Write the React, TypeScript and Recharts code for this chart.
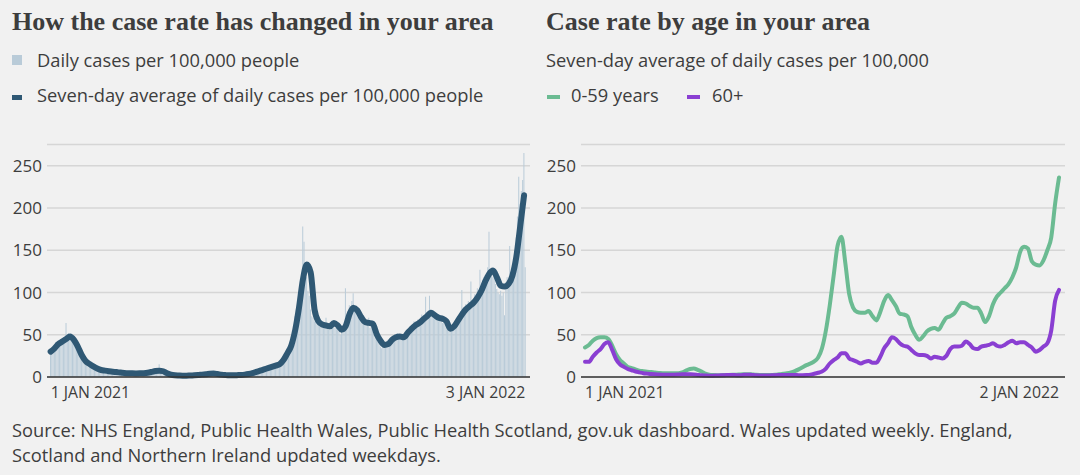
import React from 'react';
import { ComposedChart, LineChart, Bar, Line, XAxis, YAxis, CartesianGrid } from 'recharts';

// ---------- DATA ----------
// Left chart: daily cases per 100,000 (1 Jan 2021 .. 3 Jan 2022, one value per day)
const dailyCases = [
  32, 29, 35, 38, 41, 36, 40,
  43, 45, 40, 44, 47, 64, 50,
  52, 49, 47, 43, 45, 40, 38,
  33, 30, 26, 22, 20, 18, 17,
  16, 14, 15, 13, 12, 11, 12,
  10, 9, 11, 8, 9, 8, 7,
  8, 7, 6, 8, 7, 6, 6,
  6, 7, 5, 6, 5, 6, 5,
  5, 4, 5, 4, 5, 4, 4,
  4, 5, 4, 4, 5, 4, 4,
  5, 4, 5, 5, 4, 6, 5,
  6, 7, 6, 8, 7, 8, 9,
  15, 8, 7, 6, 6, 5, 4,
  3, 3, 2, 2, 2, 2, 1,
  2, 1, 2, 1, 1, 2, 1,
  1, 2, 2, 2, 1, 2, 2,
  3, 2, 2, 3, 3, 3, 3,
  3, 4, 3, 4, 4, 5, 4,
  4, 4, 3, 4, 3, 3, 2,
  2, 3, 2, 2, 2, 2, 2,
  2, 2, 3, 2, 2, 2, 3,
  2, 3, 3, 3, 3, 4, 4,
  4, 5, 5, 6, 5, 7, 6,
  7, 8, 7, 9, 10, 9, 11,
  11, 10, 13, 12, 14, 13, 12,
  15, 14, 16, 18, 20, 24, 26,
  28, 33, 36, 42, 48, 55, 60,
  72, 80, 78, 92, 98, 110, 178,
  160, 130, 118, 102, 96, 80, 72,
  70, 66, 75, 68, 64, 60, 62,
  66, 58, 62, 70, 60, 56, 58,
  65, 62, 66, 58, 60, 57, 54,
  50, 55, 52, 60, 105, 72, 78,
  85, 80, 90, 99, 80, 76, 74,
  78, 70, 72, 66, 62, 68, 60,
  66, 70, 58, 62, 56, 50, 46,
  44, 42, 40, 36, 34, 38, 40,
  36, 42, 44, 40, 46, 48, 44,
  50, 46, 52, 44, 49, 47, 45,
  50, 48, 55, 52, 58, 60, 56,
  62, 66, 58, 64, 68, 62, 70,
  74, 66, 72, 95, 70, 78, 96,
  80, 72, 76, 70, 68, 74, 66,
  72, 68, 64, 70, 62, 58, 60,
  54, 56, 60, 58, 64, 66, 70,
  72, 70, 78, 103, 76, 82, 86,
  84, 90, 88, 113, 86, 92, 98,
  96, 105, 100, 127, 108, 115, 118,
  120, 112, 130, 172, 125, 128, 118,
  122, 110, 104, 100, 98, 102, 96,
  100, 73, 112, 118, 105, 155, 125,
  130, 140, 150, 165, 190, 237, 205,
  220, 233, 265, 130,
];

// Seven-day average, read every third day (day 0, 3, 6, ... 366)
const AVG_STEP = 3;
const sevenDayAvg = [
  30, 34, 39, 42, 45, 48, 44, 36, 26, 19,
  15.5, 12.5, 10, 8.3, 7.5, 6.8, 6.2, 5.8, 5.2, 4.8,
  4.5, 4.3, 4.2, 4.3, 4.5, 5, 6, 7.2, 7.5, 6.8,
  4.5, 2.8, 2, 1.7, 1.5, 1.5, 1.8, 2, 2.3, 2.8,
  3.2, 3.8, 4, 3.5, 2.8, 2.3, 2, 2, 2.2, 2.4,
  2.8, 3.5, 4.5, 6, 7.5, 9, 10.5, 12, 13.5, 15,
  20, 28, 37, 55, 82, 115, 133, 124, 80, 66,
  62, 61, 60, 64, 61, 56, 60, 74, 82, 79,
  71, 65, 64, 63, 51, 43, 38, 39, 44, 47,
  48, 47, 52, 57, 61, 64, 68, 72, 76, 73,
  70, 69, 66, 57, 60, 67, 74, 80, 84, 88,
  94, 102, 113, 122, 126, 118, 108, 107, 110, 120,
  142, 178, 215,
];

// Right chart: seven-day average by age, read every third day (1 Jan 2021 .. 2 Jan 2022)
const AGE_STEP = 3;
const ageUnder60 = [
  35, 38, 43, 46, 47, 47, 45, 37, 27, 20,
  16, 12, 10.5, 9, 7.5, 6.8, 6.2, 5.8, 5.2, 4.8,
  4.5, 4.5, 4.5, 4.5, 4.5, 5.5, 7.5, 9.5, 10, 8.5,
  6.5, 4, 2.8, 2.4, 2.2, 2.2, 2.4, 2.5, 2.6, 2.7,
  3, 3.2, 3.4, 3, 2.6, 2.4, 2.4, 2.3, 2.4, 2.6,
  3.2, 3.8, 4.5, 5.5, 7, 9, 11.5, 14, 16, 18.5,
  23, 34, 55, 85, 120, 155, 166, 135, 98, 82,
  77, 76, 76, 78, 72, 67, 77, 90, 97, 91,
  84, 75, 74, 72, 59, 50, 44, 48, 54, 57,
  58, 56, 63, 70, 72, 75, 82, 88, 87, 84,
  82, 82, 75, 65, 72, 86, 95, 100, 105, 110,
  118, 130, 148, 154, 152, 137, 133, 132, 138, 150,
  165, 205, 236,
];
const age60Plus = [
  18, 18, 24, 29, 33, 39, 41, 32, 21, 15,
  12, 9.5, 8, 6.5, 5.5, 4.5, 4, 3.5, 3.2, 3,
  2.8, 2.6, 2.6, 2.8, 3, 3.2, 3.3, 3.2, 3, 2.5,
  2, 1.8, 1.6, 1.6, 1.8, 2, 2.2, 2.4, 2.4, 2.2,
  2.2, 2.6, 2.8, 2.4, 2, 1.8, 1.8, 1.8, 2, 2.2,
  2.3, 2.4, 2.4, 2.4, 2.4, 2.2, 2.2, 2.4, 2.8, 3.8,
  5, 6.5, 10, 16, 20, 23, 28, 28, 22, 20,
  18, 16, 18, 19, 17, 17, 24, 34, 40, 47,
  45, 40, 37, 36, 32, 28, 26, 26, 25, 22,
  24, 23, 22, 25, 33, 36, 36, 37, 42, 39,
  34, 33, 36, 37, 38, 40, 37, 36, 38, 41,
  43, 40, 41, 41, 38, 35, 30, 32, 36, 40,
  55, 90, 103,
];

const leftTickLabels = ['1 JAN 2021', '3 JAN 2022'];
const rightTickLabels = ['1 JAN 2021', '2 JAN 2022'];
const yTicks = [0, 50, 100, 150, 200, 250];

// ---------- TABLES ----------
const leftData = dailyCases.map((v, i) => ({
  day: i,
  daily: v,
  avg: i % AVG_STEP === 0 && sevenDayAvg[i / AVG_STEP] !== undefined ? sevenDayAvg[i / AVG_STEP] : null,
}));
const leftLastDay = dailyCases.length - 1;

const rightData = ageUnder60.map((v, i) => ({
  day: i * AGE_STEP,
  young: v,
  old: age60Plus[i],
}));
const rightLastDay = (ageUnder60.length - 1) * AGE_STEP;

// ---------- STYLE ----------
const BG = '#f1f1f1';
const TEXT = '#3d3d3d';
const SANS = '"Open Sans", Lato, sans-serif';
const SERIF = '"Liberation Serif", serif';
const GRID = '#d6d6d6';
const BAR = '#b9cbd8';
const AVG_LINE = '#2f5874';
const GREEN = '#6bbb92';
const PURPLE = '#8a3fd2';
const BODY = 18.3;

const makeTick = (labels: string[], first: number) => (props: any) => {
  const { x, y, payload } = props;
  const isFirst = payload.value === first;
  return (
    <text
      x={x}
      y={y + 19}
      textAnchor={isFirst ? 'start' : 'end'}
      fill={TEXT}
      fontSize={15.8}
      fontFamily={SANS}
    >
      {isFirst ? labels[0] : labels[1]}
    </text>
  );
};

const yTickStyle = { fill: TEXT, fontSize: 17, fontFamily: SANS };

const abs = (left: number, top: number): React.CSSProperties => ({
  position: 'absolute',
  left,
  top,
  whiteSpace: 'nowrap',
});

export default function App() {
  return (
    <div style={{ position: 'absolute', left: 0, top: 0, width: 1080, height: 475, background: BG, overflow: 'hidden', color: TEXT, fontFamily: SANS }}>
      {/* Left header */}
      <div style={{ ...abs(12, 5), fontFamily: SERIF, fontWeight: 700, fontSize: 26, lineHeight: '34px' }}>
        How the case rate has changed in your area
      </div>
      <div style={{ ...abs(12, 55), width: 10, height: 10, background: BAR }} />
      <div style={{ ...abs(37, 47), fontSize: BODY, lineHeight: '25px' }}>Daily cases per 100,000 people</div>
      <div style={{ ...abs(12, 95), width: 10, height: 5, background: AVG_LINE }} />
      <div style={{ ...abs(37, 82), fontSize: BODY, lineHeight: '25px' }}>Seven-day average of daily cases per 100,000 people</div>

      {/* Right header */}
      <div style={{ ...abs(546, 5), fontFamily: SERIF, fontWeight: 700, fontSize: 26, lineHeight: '34px' }}>
        Case rate by age in your area
      </div>
      <div style={{ ...abs(546, 47), fontSize: BODY, lineHeight: '25px' }}>Seven-day average of daily cases per 100,000</div>
      <div style={{ ...abs(547, 95), width: 13, height: 4, background: GREEN }} />
      <div style={{ ...abs(571, 82), fontSize: BODY, lineHeight: '25px' }}>0-59 years</div>
      <div style={{ ...abs(687, 95), width: 13, height: 4, background: PURPLE }} />
      <div style={{ ...abs(712, 82), fontSize: BODY, lineHeight: '25px' }}>60+</div>

      {/* Left chart */}
      <div style={abs(0, 130)}>
        <ComposedChart width={540} height={280} data={leftData} margin={{ top: 14.6, right: 10, bottom: 0, left: 0 }} barCategoryGap={0}>
          <CartesianGrid vertical={false} stroke={GRID} strokeWidth={1.5} />
          <XAxis
            dataKey="day"
            type="category"
            ticks={[0, leftLastDay]}
            interval={0}
            height={33}
            padding={{ left: 3, right: 4 }}
            tickLine={false}
            tickSize={0}
            axisLine={{ stroke: '#333', strokeWidth: 1.5 }}
            tick={makeTick(leftTickLabels, 0)}
          />
          <YAxis
            width={47}
            domain={[0, 275]}
            ticks={yTicks}
            axisLine={false}
            tickLine={false}
            tickSize={0}
            tickMargin={5}
            tick={yTickStyle}
          />
          <Bar dataKey="daily" fill={BAR} isAnimationActive={false} />
          <Line
            dataKey="avg"
            type="monotone"
            stroke={AVG_LINE}
            strokeWidth={6}
            dot={false}
            connectNulls
            isAnimationActive={false}
            strokeLinejoin="round"
            strokeLinecap="round"
          />
        </ComposedChart>
      </div>

      {/* Right chart */}
      <div style={abs(540, 130)}>
        <LineChart width={540} height={280} data={rightData} margin={{ top: 14.6, right: 15, bottom: 0, left: 0 }}>
          <CartesianGrid vertical={false} stroke={GRID} strokeWidth={1.5} />
          <XAxis
            dataKey="day"
            type="number"
            domain={[0, rightLastDay]}
            ticks={[0, rightLastDay]}
            interval={0}
            height={33}
            padding={{ left: 4, right: 6 }}
            tickLine={false}
            tickSize={0}
            axisLine={{ stroke: '#333', strokeWidth: 1.5 }}
            tick={makeTick(rightTickLabels, 0)}
          />
          <YAxis
            width={41}
            domain={[0, 275]}
            ticks={yTicks}
            axisLine={false}
            tickLine={false}
            tickSize={0}
            tickMargin={5}
            tick={yTickStyle}
          />
          <Line dataKey="young" type="monotone" stroke={GREEN} strokeWidth={4} dot={false} isAnimationActive={false} strokeLinejoin="round" strokeLinecap="round" />
          <Line dataKey="old" type="monotone" stroke={PURPLE} strokeWidth={4} dot={false} isAnimationActive={false} strokeLinejoin="round" strokeLinecap="round" />
        </LineChart>
      </div>

      {/* Source */}
      <div style={{ ...abs(12, 417), fontSize: BODY, lineHeight: '25px' }}>
        Source: NHS England, Public Health Wales, Public Health Scotland, gov.uk dashboard. Wales updated weekly. England,
        <br />
        Scotland and Northern Ireland updated weekdays.
      </div>
    </div>
  );
}
